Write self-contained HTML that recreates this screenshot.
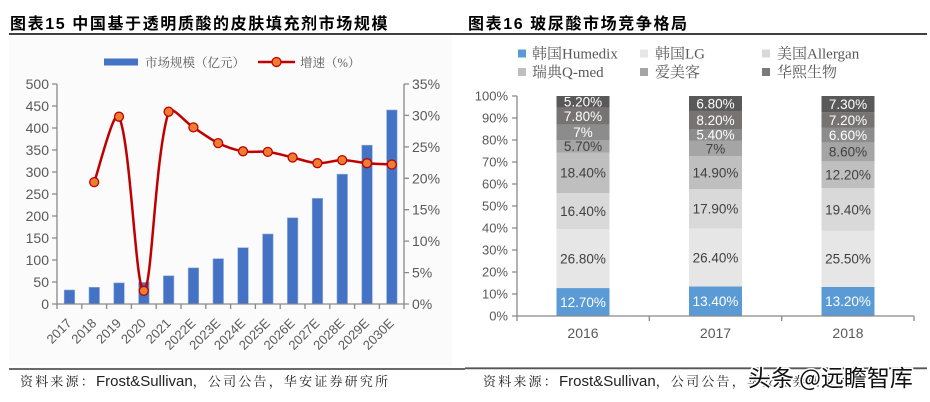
<!DOCTYPE html>
<html><head><meta charset="utf-8"><style>
html,body{margin:0;padding:0;background:#fff;}
svg{display:block;}
</style></head><body>
<svg width="930" height="402" viewBox="0 0 930 402" xmlns="http://www.w3.org/2000/svg">
<rect width="930" height="402" fill="#fff"/>
<!-- Titles -->
<text x="10" y="29" font-family="Liberation Sans, Noto Sans CJK SC, sans-serif" font-weight="bold" font-size="16" letter-spacing="1.6" fill="#000">图表15 中国基于透明质酸的皮肤填充剂市场规模</text>
<text x="468" y="29" font-family="Liberation Sans, Noto Sans CJK SC, sans-serif" font-weight="bold" font-size="16" letter-spacing="1.6" fill="#000">图表16 玻尿酸市场竞争格局</text>
<line x1="9" y1="34" x2="927" y2="34" stroke="#000" stroke-width="1.5"/>

<!-- Left chart background -->
<rect x="9" y="36" width="443" height="329" fill="#fbfbfb"/>

<!-- Left legend -->
<rect x="104" y="58.5" width="34" height="7" fill="#4472c4"/>
<text x="145" y="67" font-family="Liberation Serif, Noto Serif CJK SC, serif" font-size="12.5" fill="#595959">市场规模（亿元）</text>
<line x1="258" y1="62" x2="295" y2="62" stroke="#c00000" stroke-width="2.5"/>
<circle cx="276.5" cy="62" r="4.5" fill="#ed7d31" stroke="#c00000" stroke-width="1.3"/>
<text x="300" y="67" font-family="Liberation Serif, Noto Serif CJK SC, serif" font-size="12.5" fill="#595959">增速（%）</text>

<!-- Left bars -->
<g fill="#4472c4" stroke="#8faadc" stroke-width="0.6">
<rect x="64.2" y="290" width="10.5" height="14"/>
<rect x="89" y="287.3" width="10.5" height="16.7"/>
<rect x="113.8" y="282.9" width="10.5" height="21.1"/>
<rect x="138.6" y="282.4" width="10.5" height="21.6"/>
<rect x="163.4" y="275.8" width="10.5" height="28.2"/>
<rect x="188.2" y="267.9" width="10.5" height="36.1"/>
<rect x="213" y="258.7" width="10.5" height="45.3"/>
<rect x="237.8" y="247.7" width="10.5" height="56.3"/>
<rect x="262.6" y="234" width="10.5" height="70"/>
<rect x="287.4" y="217.8" width="10.5" height="86.2"/>
<rect x="312.2" y="198.4" width="10.5" height="105.6"/>
<rect x="337" y="174.2" width="10.5" height="129.8"/>
<rect x="361.8" y="145.2" width="10.5" height="158.8"/>
<rect x="386.6" y="110" width="10.5" height="194"/>
</g>

<!-- Left axes -->
<g stroke="#898989" stroke-width="1.3" fill="none">
<line x1="57" y1="84" x2="57" y2="304"/>
<line x1="404" y1="84" x2="404" y2="304"/>
<line x1="57" y1="304" x2="404" y2="304"/>
<path d="M52 84H57M52 106H57M52 128H57M52 150H57M52 172H57M52 194H57M52 216H57M52 238H57M52 260H57M52 282H57M52 304H57"/>
<path d="M404 84H409M404 115.4H409M404 146.9H409M404 178.3H409M404 209.7H409M404 241.1H409M404 272.6H409M404 304H409"/>
<path d="M57 304V309M81.8 304V309M106.6 304V309M131.4 304V309M156.2 304V309M181 304V309M205.8 304V309M230.6 304V309M255.4 304V309M280.2 304V309M305 304V309M329.8 304V309M354.6 304V309M379.4 304V309M404 304V309"/>
</g>
<g font-family="Liberation Sans, sans-serif" font-size="14" fill="#595959" text-anchor="end">
<text x="49" y="89">500</text><text x="49" y="111">450</text><text x="49" y="133">400</text>
<text x="49" y="155">350</text><text x="49" y="177">300</text><text x="49" y="199">250</text>
<text x="49" y="221">200</text><text x="49" y="243">150</text><text x="49" y="265">100</text>
<text x="49" y="287">50</text><text x="49" y="309">0</text>
</g>
<g font-family="Liberation Sans, sans-serif" font-size="14" fill="#595959">
<text x="412" y="89">35%</text><text x="412" y="120.4">30%</text><text x="412" y="151.9">25%</text>
<text x="412" y="183.3">20%</text><text x="412" y="214.7">15%</text><text x="412" y="246.1">10%</text>
<text x="412" y="277.6">5%</text><text x="412" y="309">0%</text>
</g>
<g font-family="Liberation Sans, sans-serif" font-size="13" fill="#595959" text-anchor="end">
<text transform="translate(72.4,324) rotate(-45)">2017</text>
<text transform="translate(97.2,324) rotate(-45)">2018</text>
<text transform="translate(122,324) rotate(-45)">2019</text>
<text transform="translate(146.8,324) rotate(-45)">2020</text>
<text transform="translate(171.6,324) rotate(-45)">2021</text>
<text transform="translate(196.4,324) rotate(-45)">2022E</text>
<text transform="translate(221.2,324) rotate(-45)">2023E</text>
<text transform="translate(246,324) rotate(-45)">2024E</text>
<text transform="translate(270.8,324) rotate(-45)">2025E</text>
<text transform="translate(295.6,324) rotate(-45)">2026E</text>
<text transform="translate(320.4,324) rotate(-45)">2027E</text>
<text transform="translate(345.2,324) rotate(-45)">2028E</text>
<text transform="translate(370,324) rotate(-45)">2029E</text>
<text transform="translate(394.8,324) rotate(-45)">2030E</text>
</g>

<!-- Left line -->
<path d="M94.2,182.1 C98.33,171.2 114.3,106.4 119,116.7 C130.83,142.63 135.65,291.62 143.8,290.8 C152.18,289.95 154.38,158.56 168.6,111.7 C170.91,104.1 185.13,122.17 193.4,127.4 C201.67,132.63 209.93,139.12 218.2,143.1 C226.47,147.08 234.73,149.83 243,151.3 C251.27,152.77 259.53,150.87 267.8,151.9 C276.07,152.93 284.33,155.62 292.6,157.5 C300.87,159.38 309.13,162.77 317.4,163.2 C325.67,163.63 333.93,160.1 342.2,160.1 C350.47,160.1 358.73,162.47 367,163.2 C375.27,163.93 387.67,164.28 391.8,164.5" fill="none" stroke="#c00000" stroke-width="2.5"/>
<g fill="#ed7d31" stroke="#c00000" stroke-width="1.3">
<circle cx="94.2" cy="182.1" r="4.5"/><circle cx="119" cy="116.7" r="4.5"/>
<circle cx="143.8" cy="290.8" r="4.5"/><circle cx="168.6" cy="111.7" r="4.5"/>
<circle cx="193.4" cy="127.4" r="4.5"/><circle cx="218.2" cy="143.1" r="4.5"/>
<circle cx="243" cy="151.3" r="4.5"/><circle cx="267.8" cy="151.9" r="4.5"/>
<circle cx="292.6" cy="157.5" r="4.5"/><circle cx="317.4" cy="163.2" r="4.5"/>
<circle cx="342.2" cy="160.1" r="4.5"/><circle cx="367" cy="163.2" r="4.5"/>
<circle cx="391.8" cy="164.5" r="4.5"/>
</g>

<!-- Right legend -->
<g font-family="Liberation Serif, Noto Serif CJK SC, serif" font-size="15" fill="#595959">
<rect x="518" y="49.5" width="8" height="8" fill="#5b9bd5"/><text x="532" y="58.5">韩国Humedix</text>
<rect x="640" y="49.5" width="8" height="8" fill="#e7e6e6"/><text x="655" y="58.5">韩国LG</text>
<rect x="762" y="49.5" width="8" height="8" fill="#d9d9d9"/><text x="777" y="58.5">美国Allergan</text>
<rect x="518" y="68" width="8" height="8" fill="#bfbfbf"/><text x="532" y="77">瑞典Q-med</text>
<rect x="640" y="68" width="8" height="8" fill="#a5a5a5"/><text x="655" y="77">爱美客</text>
<rect x="762" y="68" width="8" height="8" fill="#7a7a7a"/><text x="777" y="77">华熙生物</text>
</g>

<!-- Right bars -->
<g>
<rect x="556.5" y="288.06" width="53" height="27.94" fill="#5b9bd5"/>
<rect x="556.5" y="229.1" width="53" height="58.96" fill="#e6e6e6"/>
<rect x="556.5" y="193.02" width="53" height="36.08" fill="#d9d9d9"/>
<rect x="556.5" y="152.54" width="53" height="40.48" fill="#bfbfbf"/>
<rect x="556.5" y="140" width="53" height="12.54" fill="#a5a5a5"/>
<rect x="556.5" y="124.6" width="53" height="15.4" fill="#8c8c8c"/>
<rect x="556.5" y="107.44" width="53" height="17.16" fill="#777373"/>
<rect x="556.5" y="96" width="53" height="11.44" fill="#595959"/>

<rect x="689" y="286.52" width="53" height="29.48" fill="#5b9bd5"/>
<rect x="689" y="228.44" width="53" height="58.08" fill="#e6e6e6"/>
<rect x="689" y="189.06" width="53" height="39.38" fill="#d9d9d9"/>
<rect x="689" y="156.28" width="53" height="32.78" fill="#bfbfbf"/>
<rect x="689" y="140.88" width="53" height="15.4" fill="#a5a5a5"/>
<rect x="689" y="129" width="53" height="11.88" fill="#8c8c8c"/>
<rect x="689" y="110.96" width="53" height="18.04" fill="#777373"/>
<rect x="689" y="96" width="53" height="14.96" fill="#595959"/>

<rect x="821.5" y="286.96" width="53" height="29.04" fill="#5b9bd5"/>
<rect x="821.5" y="230.86" width="53" height="56.1" fill="#e6e6e6"/>
<rect x="821.5" y="188.18" width="53" height="42.68" fill="#d9d9d9"/>
<rect x="821.5" y="161.34" width="53" height="26.84" fill="#bfbfbf"/>
<rect x="821.5" y="142.42" width="53" height="18.92" fill="#a5a5a5"/>
<rect x="821.5" y="127.9" width="53" height="14.52" fill="#8c8c8c"/>
<rect x="821.5" y="112.06" width="53" height="15.84" fill="#777373"/>
<rect x="821.5" y="96" width="53" height="16.06" fill="#595959"/>
</g>
<g font-family="Liberation Sans, sans-serif" font-size="13.5" text-anchor="middle">
<g fill="#fff">
<text x="583" y="306.8">12.70%</text><text x="583" y="137.1">7%</text><text x="583" y="120.8">7.80%</text><text x="583" y="106.5">5.20%</text>
<text x="715.5" y="306">13.40%</text><text x="715.5" y="139.7">5.40%</text><text x="715.5" y="124.8">8.20%</text><text x="715.5" y="108.3">6.80%</text>
<text x="848" y="306.2">13.20%</text><text x="848" y="139.9">6.60%</text><text x="848" y="124.8">7.20%</text><text x="848" y="108.8">7.30%</text>
</g>
<g fill="#404040">
<text x="583" y="263.4">26.80%</text><text x="583" y="215.9">16.40%</text><text x="583" y="177.6">18.40%</text><text x="583" y="151.1">5.70%</text>
<text x="715.5" y="262.3">26.40%</text><text x="715.5" y="213.5">17.90%</text><text x="715.5" y="177.5">14.90%</text><text x="715.5" y="153.4">7%</text>
<text x="848" y="263.7">25.50%</text><text x="848" y="214.3">19.40%</text><text x="848" y="179.6">12.20%</text><text x="848" y="156.7">8.60%</text>
</g>
</g>

<!-- Right axes -->
<g stroke="#898989" stroke-width="1.3" fill="none">
<line x1="517" y1="96" x2="517" y2="316"/>
<line x1="517" y1="316" x2="914" y2="316"/>
<path d="M512 96H517M512 118H517M512 140H517M512 162H517M512 184H517M512 206H517M512 228H517M512 250H517M512 272H517M512 294H517M512 316H517"/>
<path d="M517 316V321M649.3 316V321M781.7 316V321M914 316V321"/>
</g>
<g font-family="Liberation Sans, sans-serif" font-size="13" fill="#595959" text-anchor="end">
<text x="508" y="100.5">100%</text><text x="508" y="122.5">90%</text><text x="508" y="144.5">80%</text>
<text x="508" y="166.5">70%</text><text x="508" y="188.5">60%</text><text x="508" y="210.5">50%</text>
<text x="508" y="232.5">40%</text><text x="508" y="254.5">30%</text><text x="508" y="276.5">20%</text>
<text x="508" y="298.5">10%</text><text x="508" y="320.5">0%</text>
</g>
<g font-family="Liberation Sans, sans-serif" font-size="14" fill="#595959" text-anchor="middle">
<text x="583" y="338">2016</text><text x="715.5" y="338">2017</text><text x="848" y="338">2018</text>
</g>

<!-- Bottom lines & sources -->
<line x1="9" y1="369" x2="465" y2="369" stroke="#555" stroke-width="1.8"/>
<line x1="465" y1="368.3" x2="927" y2="368.3" stroke="#555" stroke-width="1.8"/>
<text x="20" y="386" font-family="Liberation Sans, Noto Serif CJK SC, serif" fill="#222"><tspan font-size="13" letter-spacing="2.2">资料来源：</tspan><tspan font-size="15">Frost&amp;Sullivan</tspan><tspan font-size="13" letter-spacing="2.2">，公司公告，华安证券研究所</tspan></text>
<text x="483" y="386" font-family="Liberation Sans, Noto Serif CJK SC, serif" fill="#222"><tspan font-size="13" letter-spacing="2.2">资料来源：</tspan><tspan font-size="15">Frost&amp;Sullivan</tspan><tspan font-size="13" letter-spacing="2.2">，公司公告，华安证券研究所</tspan></text>
<text x="748" y="386" font-family="Noto Sans CJK SC, sans-serif" font-size="23" fill="#111" stroke="#fff" stroke-width="3" paint-order="stroke">头条 @远瞻智库</text>
</svg>
</body></html>
